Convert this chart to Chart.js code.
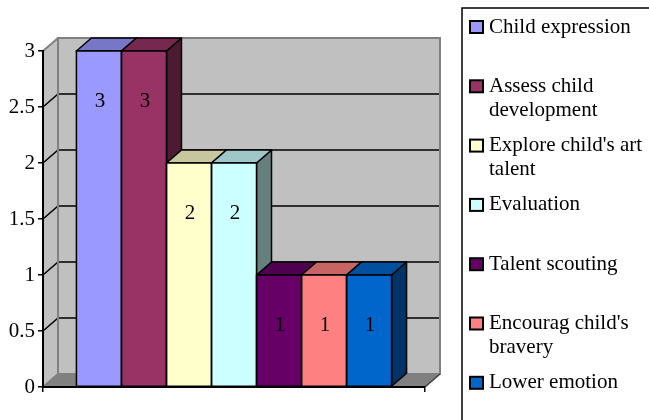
<!DOCTYPE html>
<html>
<head>
<meta charset="utf-8">
<script src="https://cdn.jsdelivr.net/npm/chart.js@4.4.1/dist/chart.umd.min.js"></script>
<style>
    html, body { margin: 0; padding: 0; background: #fff; }
    #wrap { width: 649px; height: 420px; position: relative; }
</style>
</head>
<body>
<div id="wrap"><canvas id="chart" width="649" height="420"></canvas></div>
<script>
const seriesNames = [
    'Child expression',
    'Assess child development',
    "Explore child's art talent",
    'Evaluation',
    'Talent scouting',
    "Encourag child's bravery",
    'Lower emotion',
];
const seriesValues = [3, 3, 2, 2, 1, 1, 1];
const seriesColors = ['#9999FF', '#993366', '#FFFFCC', '#CCFFFF', '#660066', '#FF8080', '#0066CC'];
const yMax = 3;
const yStep = 0.5;

const FONT = '"Liberation Serif", "Times New Roman", serif';
const DX = 15;
const DY = 13;

const shade = (hex, f) => {
    const n = parseInt(hex.slice(1), 16);
    const r = Math.round(((n >> 16) & 255) * f);
    const g = Math.round(((n >> 8) & 255) * f);
    const b = Math.round((n & 255) * f);
    return `rgb(${r}, ${g}, ${b})`;
};

const poly = (ctx, pts) => {
    ctx.beginPath();
    ctx.moveTo(pts[0][0], pts[0][1]);
    pts.slice(1).forEach(([px, py]) => ctx.lineTo(px, py));
    ctx.closePath();
};

const barBox = (chart, i) => {
    const el = chart.getDatasetMeta(i).data[0];
    const p = el.getProps(['x', 'y', 'base', 'width'], true);
    return { left: p.x - p.width / 2, right: p.x + p.width / 2, top: p.y, base: p.base, x: p.x };
};

// walls, floor and 3d gridlines
const walls3d = {
    id: 'walls3d',
    beforeDraw(chart) {
        const { ctx, chartArea: a, scales: { y } } = chart;
        const top = y.getPixelForValue(yMax);
        const base = y.getPixelForValue(0);
        ctx.save();
        ctx.fillStyle = '#C0C0C0';
        ctx.fillRect(a.left + DX, top - DY, a.right - a.left, base - top);
        poly(ctx, [[a.left, top], [a.left + DX, top - DY], [a.left + DX, base - DY], [a.left, base]]);
        ctx.fill();

        ctx.fillStyle = '#808080';
        poly(ctx, [[a.left, base], [a.left + DX, base - DY], [a.right + DX, base - DY], [a.right, base]]);
        ctx.fill();

        ctx.strokeStyle = '#000';
        ctx.lineWidth = 1.5;
        y.ticks.forEach((t) => {
            if (t.value <= 0 || t.value >= yMax) {
                return;
            }
            const py = y.getPixelForValue(t.value);
            ctx.beginPath();
            ctx.moveTo(a.left, py);
            ctx.lineTo(a.left + DX, py - DY);
            ctx.lineTo(a.right + DX, py - DY);
            ctx.stroke();
        });

        ctx.strokeStyle = '#808080';
        ctx.lineWidth = 2;
        ctx.strokeRect(a.left + DX, top - DY, a.right - a.left, base - top);
        ctx.beginPath();
        ctx.moveTo(a.left, top);
        ctx.lineTo(a.left + DX, top - DY);
        ctx.moveTo(a.left, base);
        ctx.lineTo(a.left + DX, base - DY);
        ctx.stroke();
        ctx.strokeStyle = '#404040';
        ctx.lineWidth = 1.5;
        ctx.beginPath();
        ctx.moveTo(a.right, base);
        ctx.lineTo(a.right + DX, base - DY);
        ctx.stroke();
        ctx.restore();
    },
};

// side and top faces behind, outlines and labels in front
const bars3d = {
    id: 'bars3d',
    beforeDatasetsDraw(chart) {
        const { ctx } = chart;
        ctx.save();
        ctx.strokeStyle = '#000';
        ctx.lineWidth = 1.5;
        ctx.lineJoin = 'round';
        seriesValues.forEach((v, i) => {
            const b = barBox(chart, i);
            poly(ctx, [[b.right, b.top], [b.right + DX, b.top - DY], [b.right + DX, b.base - DY], [b.right, b.base]]);
            ctx.fillStyle = shade(seriesColors[i], 0.5);
            ctx.fill();
            ctx.stroke();
            poly(ctx, [[b.left, b.top], [b.left + DX, b.top - DY], [b.right + DX, b.top - DY], [b.right, b.top]]);
            ctx.fillStyle = shade(seriesColors[i], 0.78);
            ctx.fill();
            ctx.stroke();
        });
        ctx.restore();
    },
    afterDatasetsDraw(chart) {
        const { ctx } = chart;
        ctx.save();
        ctx.strokeStyle = '#000';
        ctx.lineWidth = 1.5;
        ctx.font = `21px ${FONT}`;
        ctx.textAlign = 'center';
        ctx.textBaseline = 'middle';
        seriesValues.forEach((v, i) => {
            const b = barBox(chart, i);
            ctx.strokeRect(b.left, b.top, b.right - b.left, b.base - b.top);
            ctx.fillStyle = '#000';
            ctx.fillText(String(v), b.x + 1, b.top + 50);
        });
        ctx.restore();
    },
};

const wrapText = (ctx, text, maxWidth) => {
    const words = text.split(' ');
    const lines = [];
    let line = '';
    words.forEach((w) => {
        const test = line ? `${line} ${w}` : w;
        if (line && ctx.measureText(test).width > maxWidth) {
            lines.push(line);
            line = w;
        } else {
            line = test;
        }
    });
    lines.push(line);
    return lines;
};

const legendBox = {
    id: 'legendBox',
    afterDraw(chart) {
        const { ctx } = chart;
        const boxLeft = 462;
        const boxTop = 8;
        ctx.save();
        ctx.strokeStyle = '#000';
        ctx.lineWidth = 1.5;
        ctx.strokeRect(boxLeft, boxTop, 400, 500);
        ctx.font = `21px ${FONT}`;
        ctx.textBaseline = 'middle';
        ctx.textAlign = 'left';
        seriesNames.forEach((name, i) => {
            const cy = 27 + i * 59.3;
            ctx.fillStyle = seriesColors[i];
            ctx.fillRect(470, cy - 6, 13, 12);
            ctx.lineWidth = 2;
            ctx.strokeRect(470, cy - 6, 13, 12);
            ctx.fillStyle = '#000';
            wrapText(ctx, name, 158).forEach((ln, k) => {
                ctx.fillText(ln, 489, cy + k * 24);
            });
        });
        ctx.restore();
    },
};

new Chart(document.getElementById('chart'), {
    type: 'bar',
    data: {
        labels: [''],
        datasets: seriesNames.map((name, i) => ({
            label: name,
            data: [seriesValues[i]],
            backgroundColor: seriesColors[i],
            borderWidth: 0,
            categoryPercentage: 0.825,
            barPercentage: 1,
        })),
    },
    options: {
        responsive: false,
        animation: false,
        layout: { padding: { top: 51, right: 224, left: 0, bottom: 0 } },
        plugins: {
            legend: { display: false },
            tooltip: { enabled: false },
        },
        scales: {
            x: {
                ticks: { display: false },
                grid: { drawOnChartArea: false, tickLength: 5, color: '#000', lineWidth: 1.5 },
                border: { color: '#000', width: 2 },
                afterFit: (scale) => { scale.height = 33; },
            },
            y: {
                min: 0,
                max: yMax,
                ticks: {
                    stepSize: yStep,
                    color: '#000',
                    padding: 3,
                    font: { family: FONT, size: 21 },
                    callback: (value) => String(value),
                },
                grid: { drawOnChartArea: false, tickLength: 5, color: '#000', lineWidth: 1.5 },
                border: { color: '#000', width: 2 },
                afterFit: (scale) => { scale.width = 43; },
            },
        },
    },
    plugins: [walls3d, bars3d, legendBox],
});
</script>
</body>
</html>
